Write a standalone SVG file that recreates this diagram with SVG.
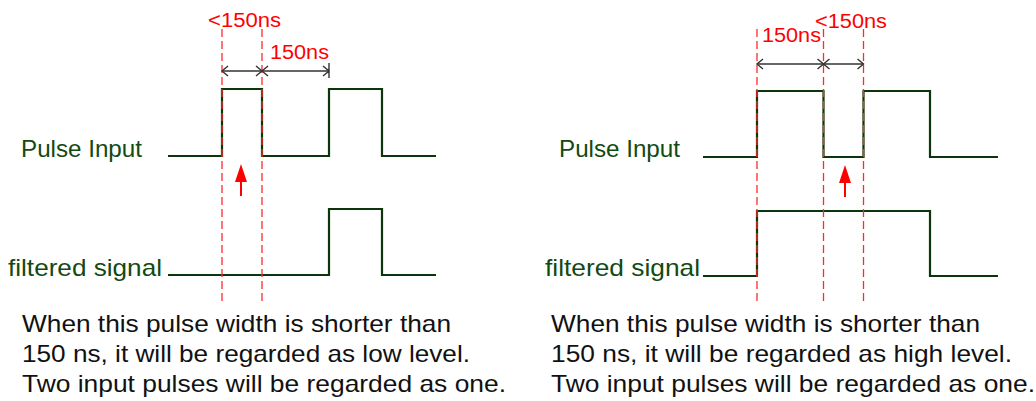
<svg xmlns="http://www.w3.org/2000/svg" width="1036" height="401" viewBox="0 0 1036 401">
<style>
.sig{fill:none;stroke:#0b360b;stroke-width:2.2;stroke-linejoin:miter}
.lbl{font-family:"Liberation Sans",Arial,sans-serif;font-size:24px;fill:#124a12}
.red{font-family:"Liberation Sans",Arial,sans-serif;font-size:20px;fill:#ff0000}
.cap{font-family:"Liberation Sans",Arial,sans-serif;font-size:24px;fill:#111}
.dash{stroke:#ff2a2a;stroke-width:1.3;stroke-dasharray:8 4;fill:none}
.dim{stroke:#333;stroke-width:1.4;fill:none}
.arr{fill:#ff0000}
</style>
<rect width="1036" height="401" fill="#fff"/>
<g id="left-panel">
  <g id="left-pulse-input">
    <text class="lbl" x="21" y="157" textLength="121" lengthAdjust="spacingAndGlyphs">Pulse Input</text>
    <polyline class="sig" points="168,156 222,156 222,89 262,89 262,156 329,156 329,89 382,89 382,156 436,156"/>
  </g>
  <g id="left-filtered">
    <text class="lbl" x="8" y="276" textLength="154" lengthAdjust="spacingAndGlyphs">filtered signal</text>
    <polyline class="sig" points="168,275 329,275 329,209 382,209 382,275 436,275"/>
  </g>
  <g id="left-timing">
    <line class="dash" x1="222" y1="29" x2="222" y2="304"/>
    <line class="dash" x1="262" y1="29" x2="262" y2="304"/>
    <line class="dim" x1="222" y1="71" x2="329" y2="71"/>
    <path class="dim" d="M228,66 L222,71 L228,76 M256,66 L262,71 L256,76 M268,66 L262,71 L268,76 M323,66 L329,71 L323,76 M329,63 L329,78"/>
    <text class="red" x="208" y="27" textLength="73" lengthAdjust="spacingAndGlyphs">&lt;150ns</text>
    <text class="red" x="270" y="59" textLength="59" lengthAdjust="spacingAndGlyphs">150ns</text>
    <path class="arr" d="M241,164 L235,182 L240,182 L240,196 L242,196 L242,182 L247,182 Z"/>
  </g>
  <g id="left-caption">
    <text class="cap" x="22" y="332" textLength="429" lengthAdjust="spacingAndGlyphs">When this pulse width is shorter than</text>
    <text class="cap" x="22" y="362" textLength="448" lengthAdjust="spacingAndGlyphs">150 ns, it will be regarded as low level.</text>
    <text class="cap" x="22" y="392" textLength="484" lengthAdjust="spacingAndGlyphs">Two input pulses will be regarded as one.</text>
  </g>
</g>
<g id="right-panel">
  <g id="right-pulse-input">
    <text class="lbl" x="559" y="157" textLength="121" lengthAdjust="spacingAndGlyphs">Pulse Input</text>
    <polyline class="sig" points="703,157 757,157 757,91 823.5,91 823.5,157 863.5,157 863.5,91 930,91 930,157 998,157"/>
  </g>
  <g id="right-filtered">
    <text class="lbl" x="545" y="276" textLength="155" lengthAdjust="spacingAndGlyphs">filtered signal</text>
    <polyline class="sig" points="703,276 757,276 757,211 930,211 930,276 998,276"/>
  </g>
  <g id="right-timing">
    <line class="dash" x1="757" y1="29" x2="757" y2="304"/>
    <line class="dash" x1="823.5" y1="29" x2="823.5" y2="304"/>
    <line class="dash" x1="863.5" y1="29" x2="863.5" y2="304"/>
    <line class="dim" x1="757" y1="64" x2="863.5" y2="64"/>
    <path class="dim" d="M763,59 L757,64 L763,69 M817.5,59 L823.5,64 L817.5,69 M829.5,59 L823.5,64 L829.5,69 M857.5,59 L863.5,64 L857.5,69"/>
    <text class="red" x="762" y="42" textLength="59" lengthAdjust="spacingAndGlyphs">150ns</text>
    <text class="red" x="815" y="28" textLength="72" lengthAdjust="spacingAndGlyphs">&lt;150ns</text>
    <path class="arr" d="M845,165 L839,183 L844,183 L844,197 L846,197 L846,183 L851,183 Z"/>
  </g>
  <g id="right-caption">
    <text class="cap" x="551" y="332" textLength="429" lengthAdjust="spacingAndGlyphs">When this pulse width is shorter than</text>
    <text class="cap" x="551" y="362" textLength="461" lengthAdjust="spacingAndGlyphs">150 ns, it will be regarded as high level.</text>
    <text class="cap" x="551" y="392" textLength="484" lengthAdjust="spacingAndGlyphs">Two input pulses will be regarded as one.</text>
  </g>
</g>
</svg>
